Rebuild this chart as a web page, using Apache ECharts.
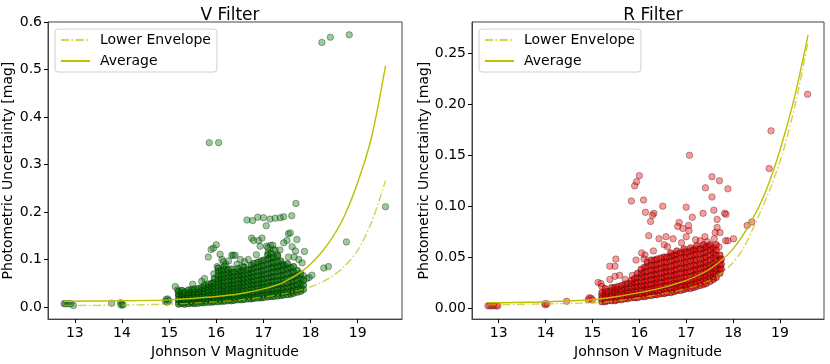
<!DOCTYPE html>
<html>
<head>
<meta charset="utf-8">
<script src="https://cdn.jsdelivr.net/npm/echarts@6/dist/echarts.min.js"></script>
<style>
html,body{margin:0;padding:0;background:#fff}
#chart{width:830px;height:364px}
</style>
</head>
<body>
<div id="chart"></div>
<script>
// tick values
var xTicks = [13, 14, 15, 16, 17, 18, 19];
var vYTicks = [0, 0.1, 0.2, 0.3, 0.4, 0.5, 0.6];
var rYTicks = [0, 0.05, 0.10, 0.15, 0.20, 0.25];

// fitted curves, V filter
var vAvgX = [12.77, 14.0, 15.0, 15.5, 16.0, 16.5, 17.0, 17.4, 17.8, 18.1, 18.4, 18.7, 19.0, 19.3, 19.59];
var vAvgY = [0.012, 0.013, 0.015, 0.018, 0.022, 0.028, 0.038, 0.051, 0.074, 0.100, 0.137, 0.188, 0.262, 0.360, 0.508];
var vLowX = [12.77, 14.0, 15.0, 15.5, 16.0, 16.5, 17.0, 17.4, 17.75, 18.1, 18.4, 18.7, 19.0, 19.3, 19.59];
var vLowY = [0.003, 0.004, 0.006, 0.008, 0.011, 0.015, 0.021, 0.027, 0.035, 0.046, 0.061, 0.084, 0.119, 0.180, 0.266];

// fitted curves, R filter
var rAvgX = [12.77, 14.0, 15.0, 15.5, 16.0, 16.5, 17.0, 17.5, 18.0, 18.4, 18.7, 19.0, 19.3, 19.6];
var rAvgY = [0.005, 0.006, 0.008, 0.011, 0.015, 0.020, 0.027, 0.038, 0.058, 0.086, 0.115, 0.155, 0.205, 0.268];
var rLowX = [12.77, 14.0, 15.0, 15.5, 16.0, 16.5, 17.0, 17.5, 17.9, 18.2, 18.53, 18.8, 19.07, 19.35, 19.6];
var rLowY = [0.003, 0.004, 0.005, 0.007, 0.010, 0.014, 0.019, 0.027, 0.040, 0.057, 0.089, 0.118, 0.154, 0.205, 0.262];

// dense part of the V scatter: [x, y1, y2, ...]
var vCluster = [
  [15.20, .006,.011,.016,.023,.028,.033],
  [15.27, .007,.012,.018,.024,.029,.035],
  [15.33, .006,.010,.016,.021,.027,.032],
  [15.41, .007,.013,.019,.025,.030,.036],
  [15.48, .008,.012,.018,.024,.031,.037],
  [15.54, .007,.013,.019,.026,.032,.038],
  [15.62, .008,.014,.020,.025,.031,.039],
  [15.69, .009,.014,.021,.027,.034,.041],
  [15.75, .009,.015,.020,.027,.033,.040,.046],
  [15.83, .010,.016,.022,.029,.035,.042,.048],
  [15.90, .010,.015,.022,.028,.036,.043,.050],
  [15.96, .011,.017,.023,.030,.037,.044,.052,.060],
  [16.04, .011,.017,.024,.030,.037,.045,.052,.059,.067,.075,.082],
  [16.11, .012,.018,.025,.031,.038,.046,.053,.061,.068,.077],
  [16.17, .012,.018,.024,.032,.039,.045,.054,.062,.070,.079,.086],
  [16.25, .013,.019,.026,.033,.040,.047,.055,.063,.071,.078],
  [16.32, .013,.020,.027,.033,.041,.048,.056,.064,.072,.080],
  [16.38, .014,.020,.026,.034,.042,.049,.057,.065,.073],
  [16.46, .015,.021,.028,.035,.042,.050,.058,.066,.074,.081],
  [16.53, .015,.022,.029,.036,.044,.051,.059,.067,.075],
  [16.59, .016,.022,.030,.037,.045,.052,.060,.068,.077,.084],
  [16.67, .017,.023,.030,.038,.046,.054,.062,.070,.078],
  [16.74, .017,.024,.031,.039,.047,.055,.063,.071,.080,.088],
  [16.80, .018,.025,.032,.040,.048,.056,.064,.073,.082,.092],
  [16.88, .019,.025,.033,.041,.049,.057,.066,.075,.084,.094],
  [16.95, .019,.026,.034,.042,.050,.059,.067,.076,.086,.097],
  [17.01, .020,.027,.035,.043,.051,.060,.069,.078,.088,.099],
  [17.09, .021,.028,.036,.044,.052,.061,.070,.080,.090,.101,.110],
  [17.16, .022,.028,.036,.045,.054,.063,.072,.082,.092,.103,.113],
  [17.22, .022,.029,.037,.046,.055,.064,.074,.084,.094,.105],
  [17.30, .023,.030,.038,.047,.056,.065,.075,.085,.096,.107],
  [17.37, .024,.031,.039,.048,.057,.066,.076,.086,.097],
  [17.43, .025,.032,.040,.049,.058,.068,.078,.088],
  [17.51, .026,.033,.041,.050,.060,.070,.080,.091],
  [17.58, .027,.034,.043,.052,.062,.072,.083],
  [17.64, .029,.036,.045,.054,.064,.074,.085],
  [17.72, .031,.038,.047,.056,.066,.077],
  [17.79, .033,.041,.050,.060,.070],
  [17.85, .037,.046,.056]
];

// sparse V points
var vExtra = [
  [12.77,0.007],[12.80,0.007],[12.84,0.007],[12.88,0.007],[12.92,0.007],[12.97,0.003],
  [13.78,0.008],[13.97,0.009],[13.98,0.004],[14.0,0.006],[14.02,0.004],
  [14.92,0.012],[14.94,0.016],[14.97,0.017],[15.0,0.013],[14.96,0.010],
  [15.13,0.043],[15.18,0.036],[15.5,0.048],[15.69,0.054],[15.83,0.105],[15.89,0.121],
  [15.94,0.124],[16.0,0.131],[16.08,0.111],[16.12,0.100],[16.26,0.097],[16.33,0.109],
  [16.36,0.109],[16.40,0.109],[16.44,0.090],[16.51,0.100],[16.68,0.100],
  [16.65,0.183],[16.77,0.182],[16.88,0.189],[17.0,0.188],[17.14,0.185],[17.06,0.171],
  [16.75,0.145],[16.79,0.140],[16.9,0.140],[16.97,0.145],[16.93,0.128],[17.07,0.128],
  [17.21,0.121],[17.25,0.187],[17.36,0.188],[17.43,0.19],[17.6,0.192],[17.69,0.218],
  [17.53,0.154],[17.57,0.156],[17.5,0.14],[17.71,0.142],[17.61,0.127],[17.43,0.135],
  [17.68,0.118],[17.87,0.117],[17.53,0.105],[17.82,0.093],[17.85,0.066],[17.92,0.060],
  [17.97,0.062],[18.03,0.067],[18.28,0.082],[18.38,0.085],[18.76,0.137],[19.59,0.211],
  [18.24,0.557],[18.42,0.568],[18.82,0.573],[15.85,0.346],[16.05,0.346],
  [17.27,0.081],[17.40,0.090],[17.47,0.085],[16.2,0.09],[16.55,0.085],[16.85,0.11],
  [17.1,0.115],[17.3,0.11],[17.35,0.12],[17.15,0.13],[16.6,0.095],[17.75,0.10],
  [17.65,0.105],[15.95,0.07],[15.75,0.06],[16.02,0.085],[16.15,0.095],
  [17.1,0.125],[17.2,0.13],[17.25,0.12]
];

// dense part of the R scatter
var rCluster = [
  [15.20, .006,.009,.012,.015],
  [15.27, .006,.009,.013,.016,.019],
  [15.33, .007,.010,.013,.016],
  [15.41, .007,.010,.013,.017,.020],
  [15.48, .007,.011,.014,.017,.020],
  [15.54, .008,.011,.014,.018,.021],
  [15.62, .008,.011,.015,.018,.022],
  [15.69, .009,.012,.015,.019,.023],
  [15.75, .009,.012,.016,.020,.024],
  [15.83, .010,.013,.016,.020,.024,.027],
  [15.90, .010,.013,.017,.021,.025,.029],
  [15.96, .010,.014,.017,.021,.025,.030,.034],
  [16.04, .011,.014,.018,.022,.026,.030,.034,.038],
  [16.11, .011,.015,.018,.022,.026,.031,.035,.040],
  [16.17, .012,.015,.019,.023,.027,.031,.036,.041,.045],
  [16.25, .012,.016,.019,.023,.028,.032,.037,.042,.047],
  [16.32, .013,.016,.020,.024,.028,.033,.037,.042,.047],
  [16.38, .013,.017,.021,.025,.029,.033,.038,.043,.048],
  [16.46, .014,.017,.021,.025,.030,.034,.039,.044,.049],
  [16.53, .014,.018,.022,.026,.030,.035,.040,.045,.050],
  [16.59, .015,.018,.022,.027,.031,.036,.040,.045,.050],
  [16.67, .015,.019,.023,.027,.032,.036,.041,.046,.051,.054],
  [16.74, .016,.020,.024,.028,.032,.037,.042,.047,.052],
  [16.80, .017,.020,.024,.029,.033,.038,.043,.048,.053,.056],
  [16.88, .017,.021,.025,.029,.034,.039,.044,.049,.054],
  [16.95, .018,.022,.026,.030,.035,.039,.044,.050,.055,.058],
  [17.01, .019,.022,.026,.031,.035,.040,.045,.050,.055],
  [17.09, .019,.023,.027,.031,.036,.041,.046,.051,.056,.059],
  [17.16, .020,.024,.028,.032,.037,.042,.047,.052,.057],
  [17.22, .021,.025,.029,.033,.038,.042,.047,.053,.058,.061],
  [17.30, .022,.026,.030,.034,.039,.043,.048,.053,.058],
  [17.37, .023,.027,.031,.035,.040,.044,.049,.054,.059,.062],
  [17.43, .024,.028,.032,.036,.041,.045,.050,.055,.060],
  [17.51, .026,.030,.034,.038,.042,.047,.052,.057,.062],
  [17.58, .028,.031,.035,.040,.044,.049,.054,.059],
  [17.64, .030,.034,.038,.042,.047,.052,.057,.062],
  [17.72, .034,.038,.042,.047,.052],
  [17.75, .038,.043,.048]
];

// sparse R points
var rExtra = [
  [12.77,0.002],[12.81,0.002],[12.85,0.002],[12.9,0.002],[12.95,0.002],[12.98,0.002],
  [13.98,0.004],[14.0,0.003],[14.03,0.004],[14.45,0.0065],[14.91,0.008],[14.93,0.010],
  [14.97,0.0096],[15.0,0.008],[15.12,0.025],[15.18,0.024],[15.2,0.021],[15.37,0.041],
  [15.48,0.041],[15.5,0.048],[15.37,0.028],[15.48,0.031],[15.58,0.032],[15.93,0.047],
  [16.05,0.054],[16.12,0.052],[16.0,0.130],[15.94,0.124],[15.9,0.120],[15.83,0.105],
  [16.09,0.106],[16.13,0.094],[16.31,0.093],[16.28,0.091],[16.5,0.10],[16.24,0.085],
  [17.0,0.099],[17.13,0.089],[17.36,0.093],[17.59,0.096],[17.82,0.093],[17.85,0.092],
  [17.66,0.087],[16.2,0.071],[16.42,0.068],[16.53,0.062],[16.57,0.070],[16.72,0.068],
  [16.85,0.084],[16.82,0.080],[16.93,0.078],[17.05,0.081],[17.06,0.076],[17.0,0.070],
  [17.2,0.067],[17.4,0.070],[17.45,0.065],[17.66,0.079],[17.62,0.074],[17.72,0.074],
  [17.84,0.066],[17.07,0.150],[17.55,0.129],[17.71,0.125],[17.41,0.118],[17.89,0.117],
  [17.55,0.109],[17.89,0.066],[18.01,0.068],[18.3,0.081],[18.4,0.0845],[18.77,0.137],
  [18.81,0.174],[19.59,0.210],[16.1,0.048],[16.3,0.056],[16.6,0.06],[16.9,0.064],
  [17.3,0.066],[17.5,0.06],[17.7,0.06],[17.6,0.068],[15.7,0.028],[15.85,0.032]
];

function colsToPoints(cols){
  var pts = [];
  for (var i = 0; i < cols.length; i++) {
    for (var j = 1; j < cols[i].length; j++) pts.push([cols[i][0], cols[i][j]]);
  }
  return pts;
}
function zip(xs, ys){
  var out = [];
  for (var i = 0; i < xs.length; i++) out.push([xs[i], ys[i]]);
  return out;
}

var font = 'DejaVu Sans';
var frame = '#444';

function makeX(idx){
  return {
    type: 'value', gridIndex: idx, min: 12.43, max: 19.94,
    name: 'Johnson V Magnitude', nameLocation: 'middle', nameGap: 20,
    nameTextStyle: {fontSize: 14, color: '#000', fontFamily: font},
    axisLine: {show: true, onZero: false, lineStyle: {color: frame}},
    axisTick: {show: true, length: 4, lineStyle: {color: '#000'}, customValues: xTicks},
    axisLabel: {fontSize: 14, color: '#000', fontFamily: font, margin: 7, customValues: xTicks},
    splitLine: {show: false}
  };
}
function makeY(idx, min, max, ticks, digits, gap){
  return {
    type: 'value', gridIndex: idx, min: min, max: max,
    name: 'Photometric Uncertainty [mag]', nameLocation: 'middle', nameGap: gap,
    nameTextStyle: {fontSize: 14, color: '#000', fontFamily: font},
    axisLine: {show: true, onZero: false, lineStyle: {color: frame}},
    axisTick: {show: true, length: 4, lineStyle: {color: '#000'}, customValues: ticks},
    axisLabel: {fontSize: 14, color: '#000', fontFamily: font, margin: 6, customValues: ticks,
      formatter: function(v){ return v.toFixed(digits); }},
    splitLine: {show: false}
  };
}
function makeLegend(left){
  return {
    left: left, top: 29, orient: 'vertical',
    data: ['Lower Envelope', 'Average'],
    itemWidth: 29, itemHeight: 14, itemGap: 7,
    padding: [4, 6, 4, 5],
    itemStyle: {opacity: 0},
    backgroundColor: '#fff', borderColor: '#d0d0d0', borderWidth: 1, borderRadius: 3,
    textStyle: {fontSize: 14, color: '#000', fontFamily: font, padding: [0, 0, 0, 5]}
  };
}
// the dense core is drawn a bit more opaque so it builds up like the thousands of stars in the original
function scatter(idx, data, fill, edge){
  return {
    type: 'scatter', xAxisIndex: idx, yAxisIndex: idx, data: data,
    symbolSize: 6.5, z: 2,
    itemStyle: {color: fill, borderColor: edge, borderWidth: 0.8}
  };
}
function curve(idx, name, data, dashed){
  return {
    type: 'line', name: name, xAxisIndex: idx, yAxisIndex: idx, data: data,
    smooth: 0.3, symbol: 'none', z: 3,
    itemStyle: {color: dashed ? 'rgba(191,191,0,0.7)' : '#bfbf00'},
    lineStyle: {width: 1.4, color: dashed ? 'rgba(191,191,0,0.7)' : '#bfbf00',
      type: dashed ? [8, 2.5, 1.5, 2.5] : 'solid'}
  };
}

var chart = echarts.init(document.getElementById('chart'));
chart.setOption({
  animation: false,
  textStyle: {fontFamily: font},
  title: [
    {text: 'V Filter', left: 225, top: 2, textAlign: 'center',
      textStyle: {fontSize: 17, fontWeight: 'normal', color: '#000', fontFamily: font}},
    {text: 'R Filter', left: 648, top: 2, textAlign: 'center',
      textStyle: {fontSize: 17, fontWeight: 'normal', color: '#000', fontFamily: font}}
  ],
  grid: [
    {left: 48, right: 428, top: 22, bottom: 40, show: true, borderColor: frame, borderWidth: 1},
    {left: 472, right: 6, top: 22, bottom: 40, show: true, borderColor: frame, borderWidth: 1}
  ],
  legend: [makeLegend(55), makeLegend(479)],
  xAxis: [makeX(0), makeX(1)],
  yAxis: [
    makeY(0, -0.0255, 0.6, vYTicks, 1, 30),
    makeY(1, -0.011, 0.281, rYTicks, 2, 39)
  ],
  series: [
    scatter(0, vExtra, 'rgba(0,128,0,0.5)', 'rgba(0,0,0,0.5)'),
    scatter(0, colsToPoints(vCluster), 'rgba(0,115,0,0.8)', 'rgba(0,0,0,0.6)'),
    curve(0, 'Lower Envelope', zip(vLowX, vLowY), true),
    curve(0, 'Average', zip(vAvgX, vAvgY), false),
    scatter(1, rExtra, 'rgba(255,0,0,0.5)', 'rgba(0,0,0,0.5)'),
    scatter(1, colsToPoints(rCluster), 'rgba(235,0,0,0.8)', 'rgba(0,0,0,0.6)'),
    curve(1, 'Lower Envelope', zip(rLowX, rLowY), true),
    curve(1, 'Average', zip(rAvgX, rAvgY), false)
  ]
});
</script>
</body>
</html>
